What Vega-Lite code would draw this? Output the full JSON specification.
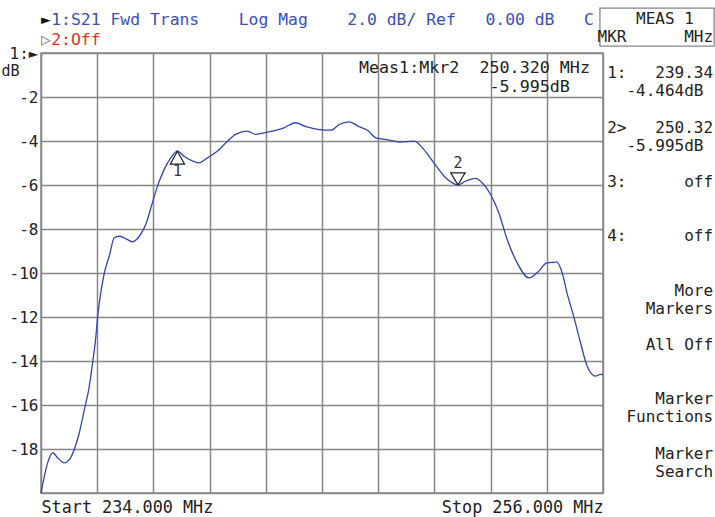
{
  "$schema": "https://vega.github.io/schema/vega-lite/v6.json",
  "width": 562,
  "height": 440,
  "autosize": "none",
  "padding": {"left": 41, "top": 53, "right": 112, "bottom": 24},
  "background": "white",
  "config": {
    "view": {"stroke": "#888888", "strokeWidth": 1.5},
    "font": "DejaVu Sans Mono"
  },
  "datasets": {
    "trace": [
      {"freq": 234.00, "db": -20.0},
      {"freq": 234.13, "db": -19.24},
      {"freq": 234.26, "db": -18.63},
      {"freq": 234.46, "db": -18.17},
      {"freq": 234.65, "db": -18.40},
      {"freq": 234.91, "db": -18.63},
      {"freq": 235.11, "db": -18.48},
      {"freq": 235.31, "db": -18.00},
      {"freq": 235.50, "db": -17.26},
      {"freq": 235.70, "db": -16.20},
      {"freq": 235.89, "db": -15.15},
      {"freq": 236.02, "db": -14.08},
      {"freq": 236.15, "db": -12.87},
      {"freq": 236.22, "db": -11.96},
      {"freq": 236.34, "db": -10.90},
      {"freq": 236.48, "db": -9.99},
      {"freq": 236.67, "db": -9.24},
      {"freq": 236.87, "db": -8.40},
      {"freq": 237.06, "db": -8.33},
      {"freq": 237.26, "db": -8.40},
      {"freq": 237.58, "db": -8.58},
      {"freq": 237.85, "db": -8.33},
      {"freq": 238.10, "db": -7.80},
      {"freq": 238.36, "db": -6.81},
      {"freq": 238.56, "db": -6.05},
      {"freq": 238.82, "db": -5.30},
      {"freq": 239.08, "db": -4.77},
      {"freq": 239.34, "db": -4.464},
      {"freq": 239.60, "db": -4.69},
      {"freq": 239.86, "db": -4.87},
      {"freq": 240.19, "db": -4.99},
      {"freq": 240.51, "db": -4.77},
      {"freq": 240.91, "db": -4.46},
      {"freq": 241.30, "db": -4.01},
      {"freq": 241.62, "db": -3.70},
      {"freq": 242.08, "db": -3.55},
      {"freq": 242.40, "db": -3.70},
      {"freq": 242.86, "db": -3.60},
      {"freq": 243.51, "db": -3.40},
      {"freq": 243.96, "db": -3.17},
      {"freq": 244.37, "db": -3.35},
      {"freq": 244.89, "db": -3.48},
      {"freq": 245.35, "db": -3.51},
      {"freq": 245.67, "db": -3.25},
      {"freq": 246.06, "db": -3.13},
      {"freq": 246.45, "db": -3.35},
      {"freq": 246.78, "db": -3.51},
      {"freq": 247.11, "db": -3.86},
      {"freq": 247.63, "db": -3.96},
      {"freq": 248.02, "db": -4.05},
      {"freq": 248.60, "db": -4.01},
      {"freq": 248.99, "db": -4.39},
      {"freq": 249.38, "db": -4.99},
      {"freq": 249.84, "db": -5.67},
      {"freq": 250.32, "db": -5.995},
      {"freq": 250.62, "db": -5.83},
      {"freq": 251.01, "db": -5.70},
      {"freq": 251.27, "db": -5.90},
      {"freq": 251.60, "db": -6.43},
      {"freq": 251.92, "db": -7.26},
      {"freq": 252.25, "db": -8.48},
      {"freq": 252.64, "db": -9.54},
      {"freq": 253.10, "db": -10.22},
      {"freq": 253.42, "db": -9.99},
      {"freq": 253.81, "db": -9.54},
      {"freq": 254.20, "db": -9.51},
      {"freq": 254.40, "db": -9.99},
      {"freq": 254.59, "db": -10.90},
      {"freq": 254.85, "db": -11.96},
      {"freq": 255.12, "db": -13.17},
      {"freq": 255.38, "db": -14.24},
      {"freq": 255.71, "db": -14.69},
      {"freq": 255.90, "db": -14.61},
      {"freq": 256.00, "db": -14.62}
    ],
    "markers": [
      {"marker": "1", "freq": 239.34, "db": -4.464},
      {"marker": "2", "freq": 250.32, "db": -5.995}
    ],
    "header": [
      {"text": "►", "row": 1.05, "channel": "active", "kind": "symbol"},
      {"text": "1:S21 Fwd Trans\u00a0\u00a0\u00a0\u00a0Log Mag\u00a0\u00a0\u00a0\u00a02.0 dB/ Ref\u00a0\u00a0\u00a00.00 dB\u00a0\u00a0\u00a0C", "row": 1.05, "channel": "1", "kind": "label"},
      {"text": "▷", "row": 2.15, "channel": "inactive", "kind": "symbol"},
      {"text": "2:Off", "row": 2.15, "channel": "2", "kind": "label"}
    ],
    "softkeys": [
      {"text": "MEAS 1\u00a0\u00a0\u2060", "row": 1},
      {"text": "MKR\u00a0\u00a0\u00a0\u00a0\u00a0\u00a0MHz", "row": 2},
      {"text": "1:\u00a0\u00a0\u00a0239.34", "row": 4},
      {"text": "-4.464dB\u00a0\u2060", "row": 5},
      {"text": "2>\u00a0\u00a0\u00a0250.32", "row": 7},
      {"text": "-5.995dB\u00a0\u2060", "row": 8},
      {"text": "3:\u00a0\u00a0\u00a0\u00a0\u00a0\u00a0off", "row": 10},
      {"text": "4:\u00a0\u00a0\u00a0\u00a0\u00a0\u00a0off", "row": 13},
      {"text": "More", "row": 16},
      {"text": "Markers", "row": 17},
      {"text": "All Off", "row": 19},
      {"text": "Marker", "row": 22},
      {"text": "Functions", "row": 23},
      {"text": "Marker", "row": 25},
      {"text": "Search", "row": 26}
    ],
    "readout": [
      {"text": "Meas1:Mkr2\u00a0\u00a0250.320 MHz", "row": 3.7},
      {"text": "-5.995dB\u00a0\u00a0\u2060", "row": 4.75}
    ]
  },
  "layer": [
    {
      "layer": [
        {
          "data": {"name": "trace"},
          "mark": {"type": "line", "color": "#3346a8", "strokeWidth": 1.3, "interpolate": "monotone"},
          "encoding": {
            "x": {
              "field": "freq", "type": "quantitative",
              "scale": {"domain": [234, 256], "nice": false, "zero": false},
              "axis": {
                "title": null,
                "values": [234, 236.2, 238.4, 240.6, 242.8, 245, 247.2, 249.4, 251.6, 253.8, 256],
                "labelExpr": "abs(datum.value-234)<0.01 ? 'Start\u00a0234.000\u00a0MHz' : abs(datum.value-256)<0.01 ? 'Stop\u00a0256.000\u00a0MHz' : ''",
                "labelFlush": true,
                "labelOverlap": false,
                "ticks": false,
                "domain": false,
                "grid": true,
                "gridColor": "#868686",
                "gridWidth": 1.5,
                "labelFont": "DejaVu Sans Mono",
                "labelFontSize": 16.8,
                "labelColor": "#222222",
                "labelPadding": 6
              }
            },
            "y": {
              "field": "db", "type": "quantitative",
              "scale": {"domain": [-20, 0], "nice": false, "zero": false},
              "axis": {
                "values": [0, -2, -4, -6, -8, -10, -12, -14, -16, -18, -20],
                "labelExpr": "datum.value == 0 ? '1:►' : datum.value == -20 ? '' : '' + datum.value",
                "ticks": false,
                "domain": false,
                "grid": true,
                "gridColor": "#868686",
                "gridWidth": 1.5,
                "labelFont": "DejaVu Sans Mono",
                "labelFontSize": 16,
                "labelColor": "#222222",
                "labelPadding": 3,
                "title": "dB",
                "titleAngle": 0,
                "titleX": -40,
                "titleY": 17,
                "titleAlign": "left",
                "titleBaseline": "middle",
                "titleFont": "DejaVu Sans Mono",
                "titleFontSize": 15,
                "titleFontWeight": "normal",
                "titleColor": "#222222"
              }
            }
          }
        },
        {
          "data": {"name": "markers"},
          "transform": [{"filter": "datum.marker == '1'"}],
          "mark": {"type": "point", "shape": "M0,0L-0.55,1L0.55,1Z", "size": 676, "filled": true, "fill": "white", "stroke": "#222222", "strokeWidth": 1.2, "opacity": 1},
          "encoding": {
            "x": {"field": "freq", "type": "quantitative"},
            "y": {"field": "db", "type": "quantitative"}
          }
        },
        {
          "data": {"name": "markers"},
          "transform": [{"filter": "datum.marker == '2'"}],
          "mark": {"type": "point", "shape": "M0,0L-0.6,-1L0.6,-1Z", "size": 576, "filled": true, "fill": "white", "stroke": "#222222", "strokeWidth": 1.2, "opacity": 1},
          "encoding": {
            "x": {"field": "freq", "type": "quantitative"},
            "y": {"field": "db", "type": "quantitative"}
          }
        },
        {
          "data": {"name": "markers"},
          "transform": [{"filter": "datum.marker == '1'"}],
          "mark": {"type": "text", "dy": 20, "fontSize": 15, "color": "#333333", "font": "DejaVu Sans Mono"},
          "encoding": {
            "x": {"field": "freq", "type": "quantitative"},
            "y": {"field": "db", "type": "quantitative"},
            "text": {"field": "marker"}
          }
        },
        {
          "data": {"name": "markers"},
          "transform": [{"filter": "datum.marker == '2'"}],
          "mark": {"type": "text", "dy": -22, "fontSize": 15, "color": "#333333", "font": "DejaVu Sans Mono"},
          "encoding": {
            "x": {"field": "freq", "type": "quantitative"},
            "y": {"field": "db", "type": "quantitative"},
            "text": {"field": "marker"}
          }
        }
      ]
    },
    {
      "layer": [
        {
          "data": {"values": [{}]},
          "mark": {"type": "rect", "fill": null, "fillOpacity": 0, "stroke": "#888888", "strokeWidth": 1.3},
          "encoding": {
            "x": {"datum": 255.88, "type": "quantitative", "scale": {"domain": [234, 256], "nice": false, "zero": false}},
            "x2": {"datum": 260.35},
            "y": {"datum": 0.39, "type": "quantitative", "scale": {"domain": [2.873, 27.182], "reverse": true, "nice": false, "zero": false}, "axis": null},
            "y2": {"datum": 2.49}
          }
        },
        {
          "data": {"name": "header"},
          "transform": [{"filter": "datum.kind == 'symbol'"}],
          "mark": {"type": "text", "align": "left", "baseline": "middle", "fontSize": 16.4, "font": "DejaVu Sans Mono"},
          "encoding": {
            "x": {"datum": 234, "type": "quantitative"},
            "y": {"field": "row", "type": "quantitative", "axis": null},
            "text": {"field": "text"},
            "color": {"field": "channel", "type": "nominal", "scale": {"domain": ["active", "1", "inactive", "2"], "range": ["#111111", "#3a50b4", "#888888", "#e0302a"]}, "legend": null}
          }
        },
        {
          "data": {"name": "header"},
          "transform": [{"filter": "datum.kind == 'label'"}],
          "mark": {"type": "text", "align": "left", "baseline": "middle", "fontSize": 16.4, "font": "DejaVu Sans Mono"},
          "encoding": {
            "x": {"datum": 234.4, "type": "quantitative"},
            "y": {"field": "row", "type": "quantitative", "axis": null},
            "text": {"field": "text"},
            "color": {"field": "channel", "type": "nominal", "legend": null}
          }
        },
        {
          "data": {"name": "softkeys"},
          "mark": {"type": "text", "align": "right", "baseline": "middle", "fontSize": 16, "color": "#222222", "font": "DejaVu Sans Mono"},
          "encoding": {
            "x": {"datum": 260.31, "type": "quantitative"},
            "y": {"field": "row", "type": "quantitative", "axis": null},
            "text": {"field": "text"}
          }
        },
        {
          "data": {"name": "readout"},
          "mark": {"type": "text", "align": "right", "baseline": "middle", "fontSize": 16.7, "color": "#222222", "font": "DejaVu Sans Mono"},
          "encoding": {
            "x": {"datum": 255.49, "type": "quantitative"},
            "y": {"field": "row", "type": "quantitative", "axis": null},
            "text": {"field": "text"}
          }
        }
      ]
    }
  ],
  "resolve": {"scale": {"y": "independent"}, "axis": {"y": "independent"}}
}
